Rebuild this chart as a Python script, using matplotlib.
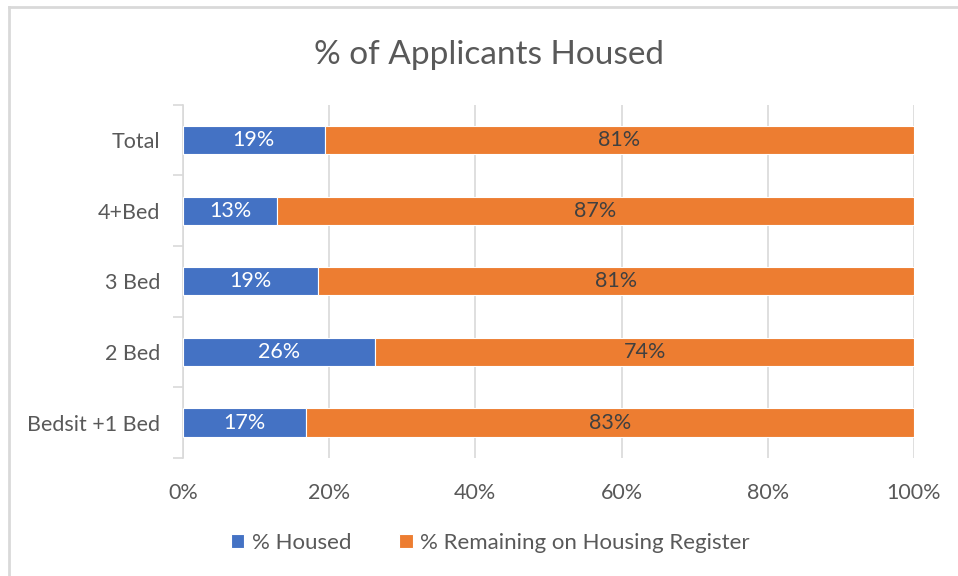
import numpy as np
import matplotlib.pyplot as plt
from matplotlib.lines import Line2D
from matplotlib.ticker import PercentFormatter

categories = ["Bedsit +1 Bed", "2 Bed", "3 Bed", "4+Bed", "Total"]
housed = [16.8, 26.3, 18.5, 12.9, 19.4]
remaining = [83.2, 73.7, 81.5, 87.1, 80.6]
housed_labels = ["17%", "26%", "19%", "13%", "19%"]
remaining_labels = ["83%", "74%", "81%", "87%", "81%"]
x_ticks = [0, 20, 40, 60, 80, 100]

blue = "#4472C4"
orange = "#ED7D31"
grey_text = "#595959"
grid_col = "#D9D9D9"

plt.rcParams["font.family"] = ["Lato", "DejaVu Sans"]

fig = plt.figure(figsize=(9.58, 5.76), dpi=100)
ax = fig.add_axes([0.191, 0.205, 0.763, 0.613])

y = np.arange(len(categories))
h = 0.4
b1 = ax.barh(y, housed, height=h, color=blue, edgecolor="white", linewidth=0.8, label="% Housed", zorder=3)
b2 = ax.barh(y, remaining, left=housed, height=h, color=orange, edgecolor="white", linewidth=0.8,
             label="% Remaining on Housing Register", zorder=3)

for i in range(len(categories)):
    ax.text(housed[i] / 2, y[i], housed_labels[i], ha="center", va="center", color="white", fontsize=15.5, zorder=4)
    ax.text(housed[i] + remaining[i] / 2, y[i], remaining_labels[i], ha="center", va="center",
            color="#404040", fontsize=15.5, zorder=4)

ax.set_xlim(0, 100)
ax.set_ylim(-0.5, len(categories) - 0.5)
ax.set_xticks(x_ticks)
ax.xaxis.set_major_formatter(PercentFormatter(decimals=0))
ax.set_yticks(y)
ax.set_yticklabels(categories)
ax.set_yticks(np.arange(-0.5, len(categories), 1.0), minor=True)

ax.grid(axis="x", color=grid_col, linewidth=1.2, zorder=0)
for s in ["top", "right", "bottom"]:
    ax.spines[s].set_visible(False)
ax.spines["left"].set_color(grid_col)
ax.spines["left"].set_linewidth(1.2)

ax.tick_params(axis="x", length=0, pad=18, labelsize=15.5, labelcolor=grey_text)
ax.tick_params(axis="y", which="major", length=0, pad=16.5, labelsize=15.5, labelcolor=grey_text)
ax.tick_params(axis="y", which="minor", length=7, width=1.2, color=grid_col)

fig.suptitle("% of Applicants Housed", x=0.51, y=0.93, fontsize=24, color=grey_text)

fig.legend(handles=[b1, b2], loc="center", bbox_to_anchor=(0.512, 0.057), ncol=2, frameon=False,
           fontsize=16, labelcolor=grey_text, handlelength=0.6, handleheight=0.6, columnspacing=2.15,
           handletextpad=0.35)

# chart border (only top and left edges visible in the crop)
fig.add_artist(Line2D([0.009, 0.009], [0, 0.988], transform=fig.transFigure, color="#D9D9D9", linewidth=2))
fig.add_artist(Line2D([0.009, 1.0], [0.988, 0.988], transform=fig.transFigure, color="#D9D9D9", linewidth=2))

fig.savefig("out.png", dpi=100)
